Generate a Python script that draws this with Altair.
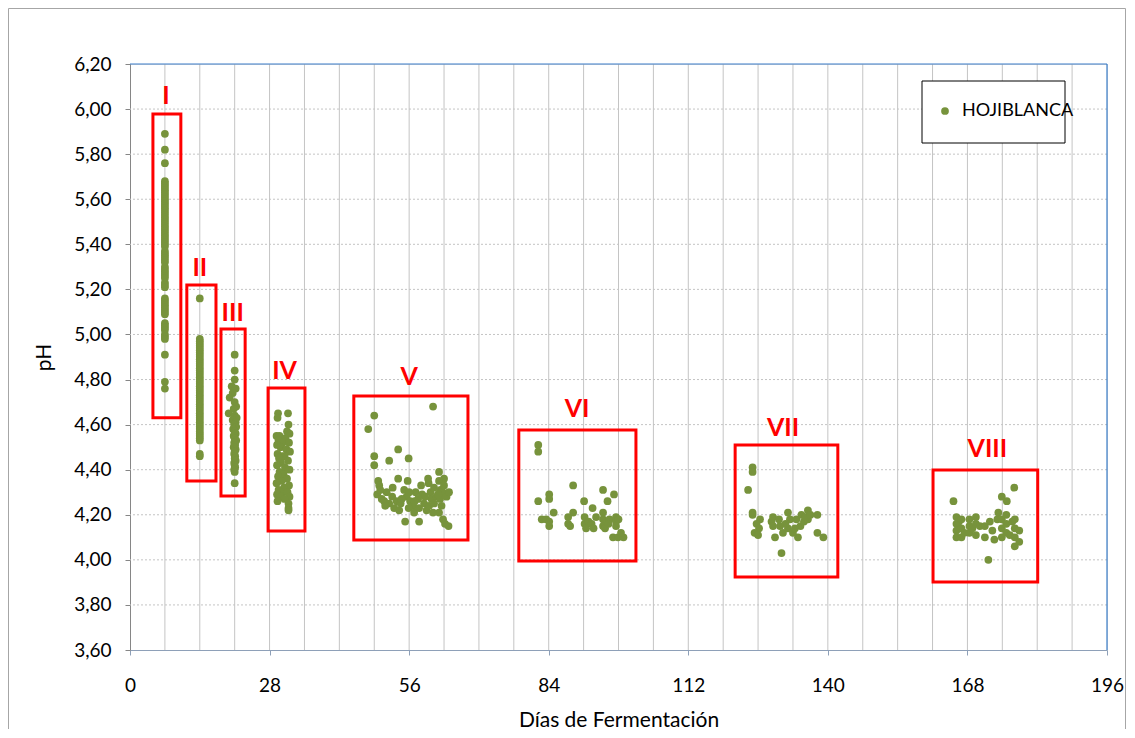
import altair as alt
import pandas as pd

# ---------------- data ----------------
series_name = "HOJIBLANCA"

g1_x = 7
g1_y = [5.89, 5.82, 5.76, 5.68, 5.67, 5.66, 5.65, 5.64, 5.63, 5.62, 5.61, 5.60, 5.59, 5.58,
        5.57, 5.56, 5.55, 5.54, 5.53, 5.52, 5.51, 5.50, 5.49, 5.48, 5.47, 5.46, 5.45, 5.44,
        5.43, 5.42, 5.41, 5.40, 5.39, 5.37, 5.36, 5.35, 5.34, 5.33, 5.32, 5.30, 5.29, 5.28,
        5.27, 5.26, 5.25, 5.23, 5.22, 5.21, 5.16, 5.15, 5.14, 5.13, 5.12, 5.11, 5.10, 5.09,
        5.05, 5.04, 5.03, 5.02, 5.00, 4.99, 4.98, 4.91, 4.79, 4.76]

g2_x = 14
g2_y = [5.16, 4.98, 4.97, 4.96, 4.95, 4.94, 4.93, 4.92, 4.91, 4.90, 4.89, 4.88, 4.87, 4.86,
        4.85, 4.84, 4.83, 4.82, 4.81, 4.80, 4.79, 4.78, 4.77, 4.76, 4.75, 4.74, 4.73, 4.72,
        4.71, 4.70, 4.69, 4.68, 4.67, 4.66, 4.65, 4.64, 4.63, 4.62, 4.61, 4.60, 4.59, 4.58,
        4.57, 4.56, 4.55, 4.54, 4.53, 4.47, 4.46]

g3_x = [21.0, 21.0, 21.0, 20.4, 21.2, 20.6, 20.0, 21.0, 21.3, 20.8, 19.8, 21.0, 21.4, 20.6,
        21.2, 20.9, 21.3, 20.7, 21.0, 21.2, 20.8, 21.0, 21.3, 20.9, 21.1, 20.8, 21.2, 21.0,
        20.9, 21.1, 21.0, 21.2, 20.9, 21.0, 21.1, 20.9, 21.0, 21.0]
g3_y = [4.91, 4.84, 4.80, 4.77, 4.76, 4.74, 4.72, 4.70, 4.68, 4.67, 4.65, 4.64, 4.63, 4.62,
        4.61, 4.60, 4.59, 4.58, 4.57, 4.56, 4.55, 4.54, 4.53, 4.52, 4.51, 4.50, 4.49, 4.48,
        4.47, 4.46, 4.45, 4.44, 4.43, 4.42, 4.41, 4.40, 4.39, 4.34]

g4_x = [29.7, 31.7, 29.6, 31.8, 31.5, 32.0, 29.4, 30.0, 31.2, 29.8, 30.6, 31.9, 29.5, 30.2,
        31.4, 32.1, 29.6, 30.5, 31.0, 29.9, 31.7, 30.3, 29.5, 31.1, 32.0, 30.0, 30.8, 29.7,
        31.5, 30.4, 29.4, 31.9, 30.9, 29.8, 30.6, 31.6, 29.5, 30.2, 32.0, 31.0, 29.6, 31.8,
        31.8, 31.8]
g4_y = [4.65, 4.65, 4.63, 4.60, 4.57, 4.56, 4.55, 4.55, 4.54, 4.53, 4.52, 4.52, 4.51, 4.50,
        4.49, 4.48, 4.47, 4.46, 4.46, 4.45, 4.44, 4.43, 4.42, 4.41, 4.40, 4.39, 4.38, 4.37,
        4.36, 4.35, 4.34, 4.33, 4.32, 4.31, 4.30, 4.30, 4.29, 4.28, 4.28, 4.27, 4.26, 4.25,
        4.23, 4.22]

g5_x = [60.8, 49.0, 47.8, 53.8, 49.0, 52.0, 55.9, 49.0, 62.0, 63.0, 59.8, 53.8, 49.8, 55.7,
        50.0, 51.5, 49.6, 50.5, 52.7, 52.6, 53.5, 54.3, 55.0, 55.5, 56.2, 56.8, 55.9, 57.3,
        57.8, 58.4, 58.6, 59.0, 59.5, 59.9, 60.3, 60.5, 60.0, 61.0, 61.5, 62.0, 62.3, 62.2,
        62.5, 62.0, 62.7, 63.5, 64.0, 63.0, 53.0, 54.0, 55.2, 58.0, 62.8, 63.9, 63.2, 51.0,
        52.0, 57.0, 58.0, 61.0, 60.8, 56.0, 57.1, 54.5, 50.2, 51.2, 59.2, 61.8]
g5_y = [4.68, 4.64, 4.58, 4.49, 4.46, 4.44, 4.45, 4.42, 4.39, 4.36, 4.36, 4.36, 4.35, 4.35,
        4.33, 4.30, 4.29, 4.27, 4.32, 4.28, 4.26, 4.25, 4.31, 4.28, 4.26, 4.24, 4.23, 4.30,
        4.27, 4.33, 4.29, 4.25, 4.22, 4.34, 4.30, 4.27, 4.24, 4.32, 4.28, 4.35, 4.31, 4.27,
        4.24, 4.21, 4.30, 4.28, 4.30, 4.33, 4.23, 4.22, 4.17, 4.17, 4.18, 4.15, 4.16, 4.26,
        4.25, 4.21, 4.23, 4.25, 4.21, 4.30, 4.26, 4.27, 4.31, 4.24, 4.28, 4.29]

g6_x = [81.9, 81.9, 88.9, 84.1, 81.9, 84.1, 94.9, 97.1, 95.8, 91.1, 92.8, 85.0, 88.9, 82.6,
        83.5, 84.1, 84.1, 87.9, 87.9, 88.3, 91.2, 91.2, 91.5, 92.0, 92.6, 93.0, 93.5, 94.9,
        94.9, 94.9, 95.3, 96.2, 96.0, 97.5, 97.5, 97.5, 98.0, 96.9, 97.9, 99.0, 98.5]
g6_y = [4.51, 4.48, 4.33, 4.29, 4.26, 4.27, 4.31, 4.29, 4.26, 4.26, 4.23, 4.21, 4.21, 4.18,
        4.18, 4.15, 4.17, 4.19, 4.16, 4.15, 4.19, 4.16, 4.14, 4.17, 4.16, 4.14, 4.19, 4.21,
        4.18, 4.15, 4.14, 4.18, 4.16, 4.19, 4.17, 4.15, 4.18, 4.10, 4.10, 4.10, 4.12]

g7_x = [124.9, 124.9, 124.0, 124.9, 124.9, 126.4, 125.7, 126.2, 125.3, 126.0, 129.0, 128.7,
        129.0, 129.4, 130.7, 130.4, 131.0, 130.2, 132.0, 132.4, 132.0, 131.5, 133.7, 134.0,
        133.0, 134.7, 134.5, 135.2, 136.0, 136.0, 135.5, 136.5, 137.9, 137.9, 139.1, 133.4]
g7_y = [4.41, 4.39, 4.31, 4.21, 4.20, 4.18, 4.16, 4.14, 4.12, 4.11, 4.19, 4.17, 4.15, 4.10,
        4.03, 4.15, 4.12, 4.18, 4.21, 4.18, 4.14, 4.16, 4.18, 4.10, 4.12, 4.20, 4.15, 4.17,
        4.22, 4.18, 4.19, 4.20, 4.20, 4.12, 4.10, 4.14]

g8_x = [177.4, 174.9, 175.9, 165.2, 174.2, 165.8, 165.8, 165.8, 165.8, 166.3, 166.8, 166.8,
        166.8, 167.4, 168.4, 168.4, 168.4, 169.0, 169.7, 169.7, 169.7, 170.5, 171.5, 171.5,
        172.2, 172.5, 173.0, 173.4, 174.0, 174.9, 174.9, 174.9, 175.8, 175.8, 175.8, 177.0,
        177.5, 177.5, 177.5, 177.5, 178.4, 178.4, 176.5]
g8_y = [4.32, 4.28, 4.26, 4.26, 4.21, 4.19, 4.16, 4.13, 4.10, 4.17, 4.18, 4.14, 4.10, 4.12,
        4.18, 4.15, 4.12, 4.14, 4.19, 4.16, 4.11, 4.15, 4.15, 4.10, 4.00, 4.17, 4.13, 4.09,
        4.18, 4.18, 4.14, 4.10, 4.20, 4.16, 4.12, 4.17, 4.18, 4.14, 4.10, 4.06, 4.13, 4.08,
        4.11]

# stage boxes (data coords) and labels
box_x1 = [4.6, 11.4, 18.25, 27.7, 44.9, 78.0, 121.4, 161.1]
box_x2 = [10.2, 17.25, 23.1, 35.1, 67.8, 101.5, 142.0, 182.1]
box_y1 = [4.63, 4.35, 4.283, 4.128, 4.088, 3.995, 3.924, 3.902]
box_y2 = [5.978, 5.22, 5.024, 4.763, 4.727, 4.576, 4.51, 4.399]
label_text = ["I", "II", "III", "IV", "V", "VI", "VII", "VIII"]
label_x = [7.2, 14.0, 20.6, 31.0, 56.0, 89.7, 131.0, 172.0]
label_y = [6.06, 5.295, 5.095, 4.84, 4.81, 4.67, 4.585, 4.49]

x_ticks = [0, 28, 56, 84, 112, 140, 168, 196]
y_ticks = [3.6, 3.8, 4.0, 4.2, 4.4, 4.6, 4.8, 5.0, 5.2, 5.4, 5.6, 5.8, 6.0, 6.2]
x_grid = [7, 14, 21, 28, 35, 42, 49, 56, 63, 70, 77, 84, 91, 98, 105, 112, 119, 126, 133,
          140, 147, 154, 161, 168, 175, 182, 189]
y_grid = [3.8, 4.0, 4.2, 4.4, 4.6, 4.8, 5.0, 5.2, 5.4, 5.6, 5.8, 6.0]

# ---------------- tables ----------------
xs, ys = [], []
xs += [g1_x] * len(g1_y); ys += g1_y
xs += [g2_x] * len(g2_y); ys += g2_y
for gx, gy in [(g3_x, g3_y), (g4_x, g4_y), (g5_x, g5_y), (g6_x, g6_y), (g7_x, g7_y), (g8_x, g8_y)]:
    xs += gx; ys += gy
pts = pd.DataFrame({"dia": xs, "ph": ys, "serie": series_name})
boxes = pd.DataFrame({"x1": box_x1, "x2": box_x2, "y1": box_y1, "y2": box_y2})
labels = pd.DataFrame({"t": label_text, "x": label_x, "y": label_y})
vg = pd.DataFrame({"d": x_grid})
hg = pd.DataFrame({"p": y_grid})

FONT = "Lato"
W, H = 977, 586
PAD_L, PAD_T, PAD_R, PAD_B = 122, 56, 20, 79
xscale = alt.Scale(domain=[0, 196], nice=False, zero=False)
yscale = alt.Scale(domain=[3.6, 6.2], nice=False, zero=False)

x_axis = alt.Axis(values=x_ticks, title="Días de Fermentación", grid=False,
                  labelFontSize=19, titleFontSize=21, titleFontWeight="normal",
                  labelColor="black", titleColor="black", labelFont=FONT, titleFont=FONT,
                  tickSize=5, tickColor="#8EA0B8", domainColor="#8EA0B8",
                  labelPadding=21, titlePadding=14, labelFlush=False)
y_axis = alt.Axis(values=y_ticks, title="pH", grid=False,
                  labelExpr="replace(format(datum.value, '.2f'), '.', ',')",
                  labelFontSize=19, titleFontSize=21, titleFontWeight="normal",
                  labelColor="black", titleColor="black", labelFont=FONT, titleFont=FONT,
                  tickSize=5, tickColor="#868686", domainColor="#868686",
                  labelPadding=14, titlePadding=19, labelFlush=False)

vgrid = alt.Chart(vg).mark_rule(color="#c4c4c4", strokeWidth=1).encode(
    x=alt.X("d:Q", scale=xscale, axis=x_axis))
hgrid = alt.Chart(hg).mark_rule(color="#c4c4c4", strokeWidth=1, strokeDash=[2, 2]).encode(
    y=alt.Y("p:Q", scale=yscale, axis=y_axis))

box_layer = alt.Chart(boxes).mark_rect(fillOpacity=0, stroke="#ff0000", strokeWidth=3).encode(
    x=alt.X("x1:Q", scale=xscale, axis=x_axis), x2="x2:Q",
    y=alt.Y("y1:Q", scale=yscale, axis=y_axis), y2="y2:Q")

legend_box = alt.Chart(alt.Data(values=[{}])).mark_rect(
    fill="white", stroke="black", strokeWidth=1).encode(
    x=alt.value(792), x2=alt.value(935), y=alt.value(17), y2=alt.value(79))

points = alt.Chart(pts).mark_circle(size=60, opacity=1).encode(
    x=alt.X("dia:Q", scale=xscale, axis=x_axis),
    y=alt.Y("ph:Q", scale=yscale, axis=y_axis),
    color=alt.Color("serie:N", scale=alt.Scale(domain=[series_name], range=["#77933C"]),
                    title=None,
                    legend=alt.Legend(orient="none", legendX=806, legendY=38, labelFontSize=18,
                                      labelFont=FONT, labelColor="black", symbolSize=60,
                                      symbolType="circle", padding=0, labelOffset=8)))

text_layer = alt.Chart(labels).mark_text(
    color="#ff0000", font=FONT, fontSize=25, fontWeight="bold", baseline="middle",
    align="center").encode(
    x=alt.X("x:Q", scale=xscale, axis=x_axis), y=alt.Y("y:Q", scale=yscale, axis=y_axis),
    text="t:N")

one = alt.Data(values=[{}])
left_b = -PAD_L + 0.5
top_b = -PAD_T + 0.5
right_b = W + PAD_R - 1.5
bottom_b = H + PAD_B
outer_left = alt.Chart(one).mark_rule(color="#a6a6a6", strokeWidth=1).encode(
    x=alt.value(left_b), y=alt.value(top_b), y2=alt.value(bottom_b))
outer_top = alt.Chart(one).mark_rule(color="#a6a6a6", strokeWidth=1).encode(
    x=alt.value(left_b), x2=alt.value(right_b), y=alt.value(top_b))
outer_right = alt.Chart(one).mark_rule(color="#a6a6a6", strokeWidth=1).encode(
    x=alt.value(right_b), y=alt.value(top_b), y2=alt.value(bottom_b))

top_line = alt.Chart(one).mark_rule(color="#3a7dc9", strokeWidth=1.2).encode(
    x=alt.value(0), x2=alt.value(W), y=alt.value(0))
right_line = alt.Chart(one).mark_rule(color="#3a7dc9", strokeWidth=1.2).encode(
    x=alt.value(W), y=alt.value(0), y2=alt.value(H))

chart = alt.layer(vgrid, hgrid, top_line, right_line, box_layer, legend_box, points,
                  text_layer, outer_left, outer_top, outer_right).properties(
    width=W, height=H,
    autosize=alt.AutoSizeParams(type="none"),
    padding={"left": PAD_L, "top": PAD_T, "right": PAD_R, "bottom": PAD_B},
).configure_view(stroke=None).configure(background="white")

chart.save("out.html", embed_options={"renderer": "svg", "actions": False})
